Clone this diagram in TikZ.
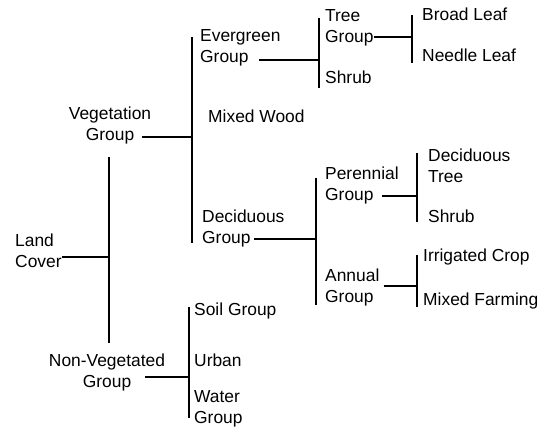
\documentclass[tikz,border=0pt]{standalone}
\usepackage{fontspec}
\setmainfont{Liberation Sans}
\usetikzlibrary{calc}

\tikzset{
  txt/.style={anchor=west,inner sep=0pt,text height=15.4pt,text depth=5pt},
  top/.style={label={[txt,anchor=south west]north west:#1}},
  topc/.style={label={[txt,anchor=south]north:#1}},
  bar/.style={line width=1.6pt},
  conn/.style={line width=1.6pt}
}

\begin{document}
\begin{tikzpicture}[x=1pt,y=-1pt,line join=round,font=\fontsize{17.4}{20}\selectfont]
\useasboundingbox (0,0) rectangle (556,430);
% first level
\node[txt,top=Land] (land) at (15,262) {Cover};
\node[txt,anchor=center,topc=Vegetation] (veg) at (110,135) {Group};
\node[txt,anchor=center,topc=Non-Vegetated] (nonveg) at (107,382) {Group};
% vegetation
\node[txt,top=Evergreen] (evg) at (200,57) {Group};
\node[txt] (mixw) at (208,117) {Mixed Wood};
\node[txt,top=Deciduous] (decg) at (202,238) {Group};
\node[txt,top=Tree] (tree) at (325,37) {Group};
\node[txt] (shrubA) at (325,78) {Shrub};
\node[txt] (broad) at (422,15) {Broad Leaf};
\node[txt] (needle) at (422,56) {Needle Leaf};
\node[txt,top=Perennial] (per) at (325,195) {Group};
\node[txt,top=Annual] (ann) at (325,297) {Group};
\node[txt,top=Deciduous] (dtree) at (428,177) {Tree};
\node[txt] (shrubB) at (428,217) {Shrub};
\node[txt] (irr) at (423,256) {Irrigated Crop};
\node[txt] (mixf) at (423,300) {Mixed Farming};
% non-vegetated
\node[txt] (soil) at (194,310) {Soil Group};
\node[txt] (urban) at (194,361) {Urban};
\node[txt,top=Water] (water) at (194,418) {Group};
% brackets
\foreach \x/\a/\b in {109/157/343,192/37/243,189/307/418,319/18/88,
  412/15/63,316/178/305,417/153/222,417/255/307}
  \draw[bar] (\x,\a) -- (\x,\b);
\coordinate (lcj) at (109,257);
\coordinate (vgj) at (192,137);
\coordinate (nvj) at (189,377);
\coordinate (evj) at (319,60);
\coordinate (trj) at (412,37);
\coordinate (dcj) at (316,239);
\coordinate (pej) at (417,196);
\coordinate (anj) at (417,286);
\draw[conn] (land.east |- lcj) -- (lcj);
\draw[conn,shorten <=8pt] (veg.east |- vgj) -- (vgj);
\draw[conn,shorten <=14pt] (nonveg.east |- nvj) -- (nvj);
\draw[conn,shorten <=10pt] (evg.east |- evj) -- (evj);
\draw[conn,shorten <=3pt] (decg.east |- dcj) -- (dcj);
\draw[conn] (tree.east |- trj) -- (trj);
\draw[conn,shorten <=8pt] (per.east |- pej) -- (pej);
\draw[conn,shorten <=10pt] (ann.east |- anj) -- (anj);
\end{tikzpicture}
\end{document}
